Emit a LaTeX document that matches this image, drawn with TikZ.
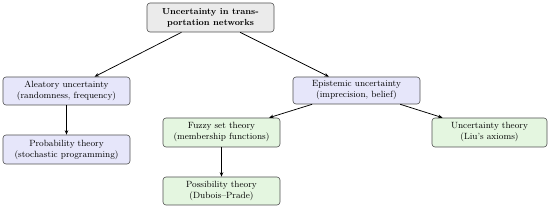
\documentclass[tikz,border=0pt]{standalone}
\usetikzlibrary{arrows.meta}
\definecolor{rootfill}{HTML}{EBEBEB}
\definecolor{bluefill}{HTML}{E6E6FA}
\definecolor{greenfill}{HTML}{E4F6E0}
\definecolor{edgegray}{HTML}{505050}
\begin{document}
\begin{tikzpicture}[x=1pt,y=1pt,
  box/.style={draw=edgegray, line width=0.6pt, rounded corners=3pt, align=center,
    inner sep=1pt, font=\fontsize{9}{11}\selectfont},
  rootbox/.style={box, fill=rootfill, font=\fontsize{8.8}{10.8}\selectfont\bfseries},
  bluebox/.style={box, fill=bluefill},
  greenbox/.style={box, fill=greenfill},
  conn/.style={-{Stealth[length=4.5pt,width=3.5pt]}, line width=0.75pt, black}]
\useasboundingbox (0,0) rectangle (550,-208);
\node[rootbox, minimum width=127pt, minimum height=29pt] (root) at (210.5,-17.5) {Uncertainty in trans-\\portation networks};
\node[bluebox, minimum width=127pt, minimum height=28pt] (ale) at (66.5,-91) {Aleatory uncertainty\\(randomness, frequency)};
\node[bluebox, minimum width=127pt, minimum height=27pt] (epi) at (356.5,-90.5) {Epistemic uncertainty\\(imprecision, belief)};
\node[bluebox, minimum width=127pt, minimum height=29pt] (prob) at (66.5,-149.5) {Probability theory\\(stochastic programming)};
\node[greenbox, minimum width=117pt, minimum height=29pt] (fuzzy) at (221.5,-132.5) {Fuzzy set theory\\(membership functions)};
\node[greenbox, minimum width=115pt, minimum height=29pt] (unc) at (489.5,-132.5) {Uncertainty theory\\(Liu's axioms)};
\node[greenbox, minimum width=117pt, minimum height=28pt] (poss) at (221.5,-191) {Possibility theory\\(Dubois--Prade)};
\draw[conn] (root) -- (ale);
\draw[conn] (root) -- (epi);
\draw[conn] (ale) -- (prob);
\draw[conn] (epi) -- (fuzzy);
\draw[conn] (epi) -- (unc);
\draw[conn] (fuzzy) -- (poss);
\end{tikzpicture}
\end{document}
